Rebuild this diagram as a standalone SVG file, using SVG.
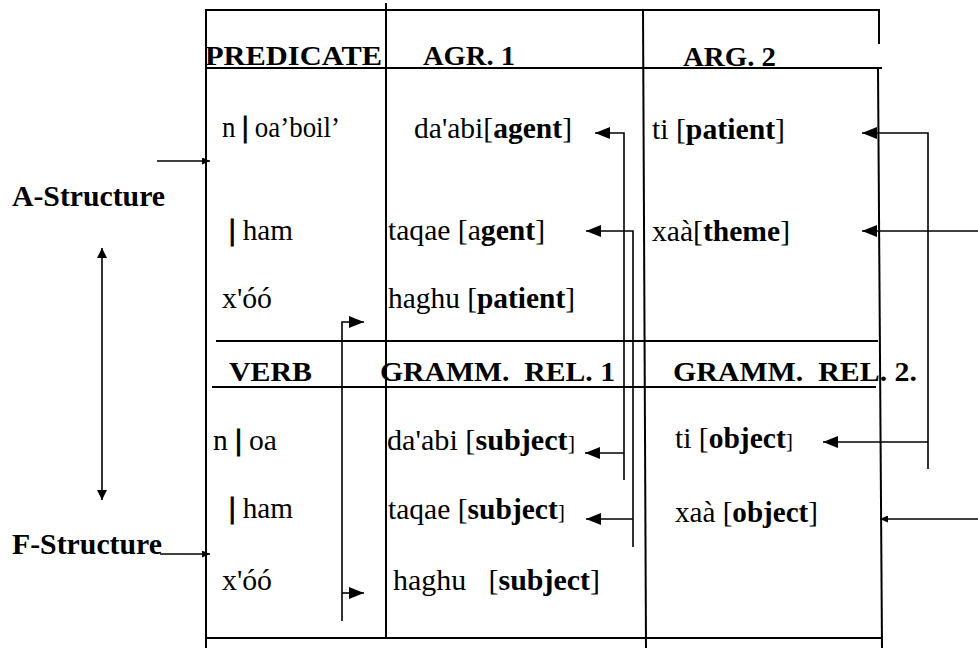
<svg xmlns="http://www.w3.org/2000/svg" width="978" height="648" viewBox="0 0 978 648">
<style>
.bg{fill:#fff}
.ln{stroke:#000;stroke-width:2;fill:none}
.cn{stroke:#000;stroke-width:1.6;fill:none}
.t{font-family:"Liberation Serif","Times New Roman",serif;font-size:30px;fill:#000;white-space:pre}
.h{font-size:28px;font-weight:bold}
.b{font-weight:bold}
.bar{font-weight:bold;stroke:#000;stroke-width:1}
.lab{font-family:"Liberation Serif","Times New Roman",serif;font-size:30px;font-weight:bold;fill:#000}
.sm{font-size:22px;font-weight:normal}
</style>
<defs>
<marker id="ah" viewBox="0 0 15 12" refX="15" refY="6" markerWidth="15" markerHeight="12" markerUnits="userSpaceOnUse" orient="auto"><path d="M0,0 L15,6 L0,12 z" fill="#000"/></marker>
<marker id="as" viewBox="0 0 8 7" refX="8" refY="3.5" markerWidth="8" markerHeight="7" markerUnits="userSpaceOnUse" orient="auto"><path d="M0,0 L8,3.5 L0,7 z" fill="#000"/></marker>
<marker id="ad" viewBox="0 0 10 10" refX="10" refY="5" markerWidth="10" markerHeight="10" markerUnits="userSpaceOnUse" orient="auto-start-reverse"><path d="M0,0 L10,5 L0,10 z" fill="#000"/></marker>
</defs>
<rect class="bg" x="0" y="0" width="978" height="648"/>

<g id="table">
<path class="ln" d="M205,10 H880"/>
<path class="ln" d="M205,68 H882"/>
<path class="ln" d="M206,10 V648"/>
<path class="ln" d="M386,3 V638"/>
<path class="ln" d="M643,10 L646,648"/>
<path class="ln" d="M879,10 V44"/>
<path class="ln" d="M878,68 L882,648"/>
<path class="ln" d="M216,341 H878"/>
<path class="ln" d="M212,387 H876"/>
<path class="ln" d="M206,638 H882"/>
</g>

<g id="labels">
<g id="a-structure"><text class="lab" x="12" y="206" textLength="153" lengthAdjust="spacingAndGlyphs">A-Structure</text></g>
<g id="f-structure"><text class="lab" x="12" y="554" textLength="150" lengthAdjust="spacingAndGlyphs">F-Structure</text></g>
</g>

<g id="headers">
<g id="h-predicate"><text class="t h" x="205" y="65" textLength="177" lengthAdjust="spacingAndGlyphs">PREDICATE</text></g>
<g id="h-agr1"><text class="t h" x="423" y="65" textLength="92" lengthAdjust="spacingAndGlyphs">AGR. 1</text></g>
<g id="h-arg2"><text class="t h" x="683" y="66" textLength="93" lengthAdjust="spacingAndGlyphs">ARG. 2</text></g>
<g id="h-verb"><text class="t h" x="229" y="381" textLength="83" lengthAdjust="spacingAndGlyphs">VERB</text></g>
<g id="h-gr1"><text class="t h" x="380" y="381" textLength="235" lengthAdjust="spacingAndGlyphs">GRAMM.  REL. 1</text></g>
<g id="h-gr2"><text class="t h" x="673" y="381" textLength="244" lengthAdjust="spacingAndGlyphs">GRAMM.  REL. 2.</text></g>
</g>

<g id="a-rows">
<g id="a-pred1"><text class="t" x="222" y="137" textLength="118" lengthAdjust="spacingAndGlyphs">n <tspan class="bar">|</tspan> oa’boil’</text></g>
<g id="a-arg1-1"><text class="t" x="414" y="138" textLength="158" lengthAdjust="spacingAndGlyphs">da'abi[<tspan class="b">agent</tspan>]</text></g>
<g id="a-arg2-1"><text class="t" x="652" y="139" textLength="133" lengthAdjust="spacingAndGlyphs">ti [<tspan class="b">patient</tspan>]</text></g>
<g id="a-pred2"><text class="t" x="229" y="240" textLength="64" lengthAdjust="spacingAndGlyphs"><tspan class="bar">|</tspan> ham</text></g>
<g id="a-arg1-2"><text class="t" x="388" y="240" textLength="157" lengthAdjust="spacingAndGlyphs">taqae [a<tspan class="b">gent</tspan>]</text></g>
<g id="a-arg2-2"><text class="t" x="652" y="241" textLength="138" lengthAdjust="spacingAndGlyphs">xaà[<tspan class="b">theme</tspan>]</text></g>
<g id="a-pred3"><text class="t" x="222" y="308" textLength="50" lengthAdjust="spacingAndGlyphs">x'óó</text></g>
<g id="a-arg1-3"><text class="t" x="388" y="308" textLength="187" lengthAdjust="spacingAndGlyphs">haghu [<tspan class="b">patient</tspan>]</text></g>
</g>

<g id="f-rows">
<g id="f-verb1"><text class="t" x="213" y="450" textLength="64" lengthAdjust="spacingAndGlyphs">n <tspan class="bar">|</tspan> oa</text></g>
<g id="f-gr1-1"><text class="t" x="387" y="450" textLength="188" lengthAdjust="spacingAndGlyphs">da'abi [<tspan class="b">subject</tspan><tspan class="sm">]</tspan></text></g>
<g id="f-gr2-1"><text class="t" x="675" y="448" textLength="118" lengthAdjust="spacingAndGlyphs">ti [<tspan class="b">object</tspan><tspan class="sm">]</tspan></text></g>
<g id="f-verb2"><text class="t" x="229" y="518" textLength="64" lengthAdjust="spacingAndGlyphs"><tspan class="bar">|</tspan> ham</text></g>
<g id="f-gr1-2"><text class="t" x="388" y="519" textLength="177" lengthAdjust="spacingAndGlyphs">taqae [<tspan class="b">subject</tspan><tspan class="sm">]</tspan></text></g>
<g id="f-gr2-2"><text class="t" x="675" y="522" textLength="143" lengthAdjust="spacingAndGlyphs">xaà [<tspan class="b">object</tspan>]</text></g>
<g id="f-verb3"><text class="t" x="222" y="590" textLength="50" lengthAdjust="spacingAndGlyphs">x'óó</text></g>
<g id="f-gr1-3"><text class="t" x="393" y="590" textLength="207" lengthAdjust="spacingAndGlyphs">haghu   [<tspan class="b">subject</tspan>]</text></g>
</g>

<g id="connectors">
<path class="cn" d="M624,480 V133 H595" marker-end="url(#ah)"/>
<path class="cn" d="M624,453 H585" marker-end="url(#ah)"/>
<path class="cn" d="M633,547 V231 H586" marker-end="url(#ah)"/>
<path class="cn" d="M633,519 H586" marker-end="url(#ah)"/>
<path class="cn" d="M928,469 V133 H862" marker-end="url(#ah)"/>
<path class="cn" d="M928,442 H823" marker-end="url(#ah)"/>
<path class="cn" d="M978,231 H862" marker-end="url(#ah)"/>
<path class="cn" d="M978,519 H880" marker-end="url(#as)"/>
<path class="cn" d="M342,621 V322 H364" marker-end="url(#ah)"/>
<path class="cn" d="M342,593 H364" marker-end="url(#ah)"/>
<path class="cn" d="M157,161 H210" marker-end="url(#as)"/>
<path class="cn" d="M160,554 H210" marker-end="url(#as)"/>
<path class="cn" d="M102,248 V500" marker-start="url(#ad)" marker-end="url(#ad)"/>
</g>
</svg>
